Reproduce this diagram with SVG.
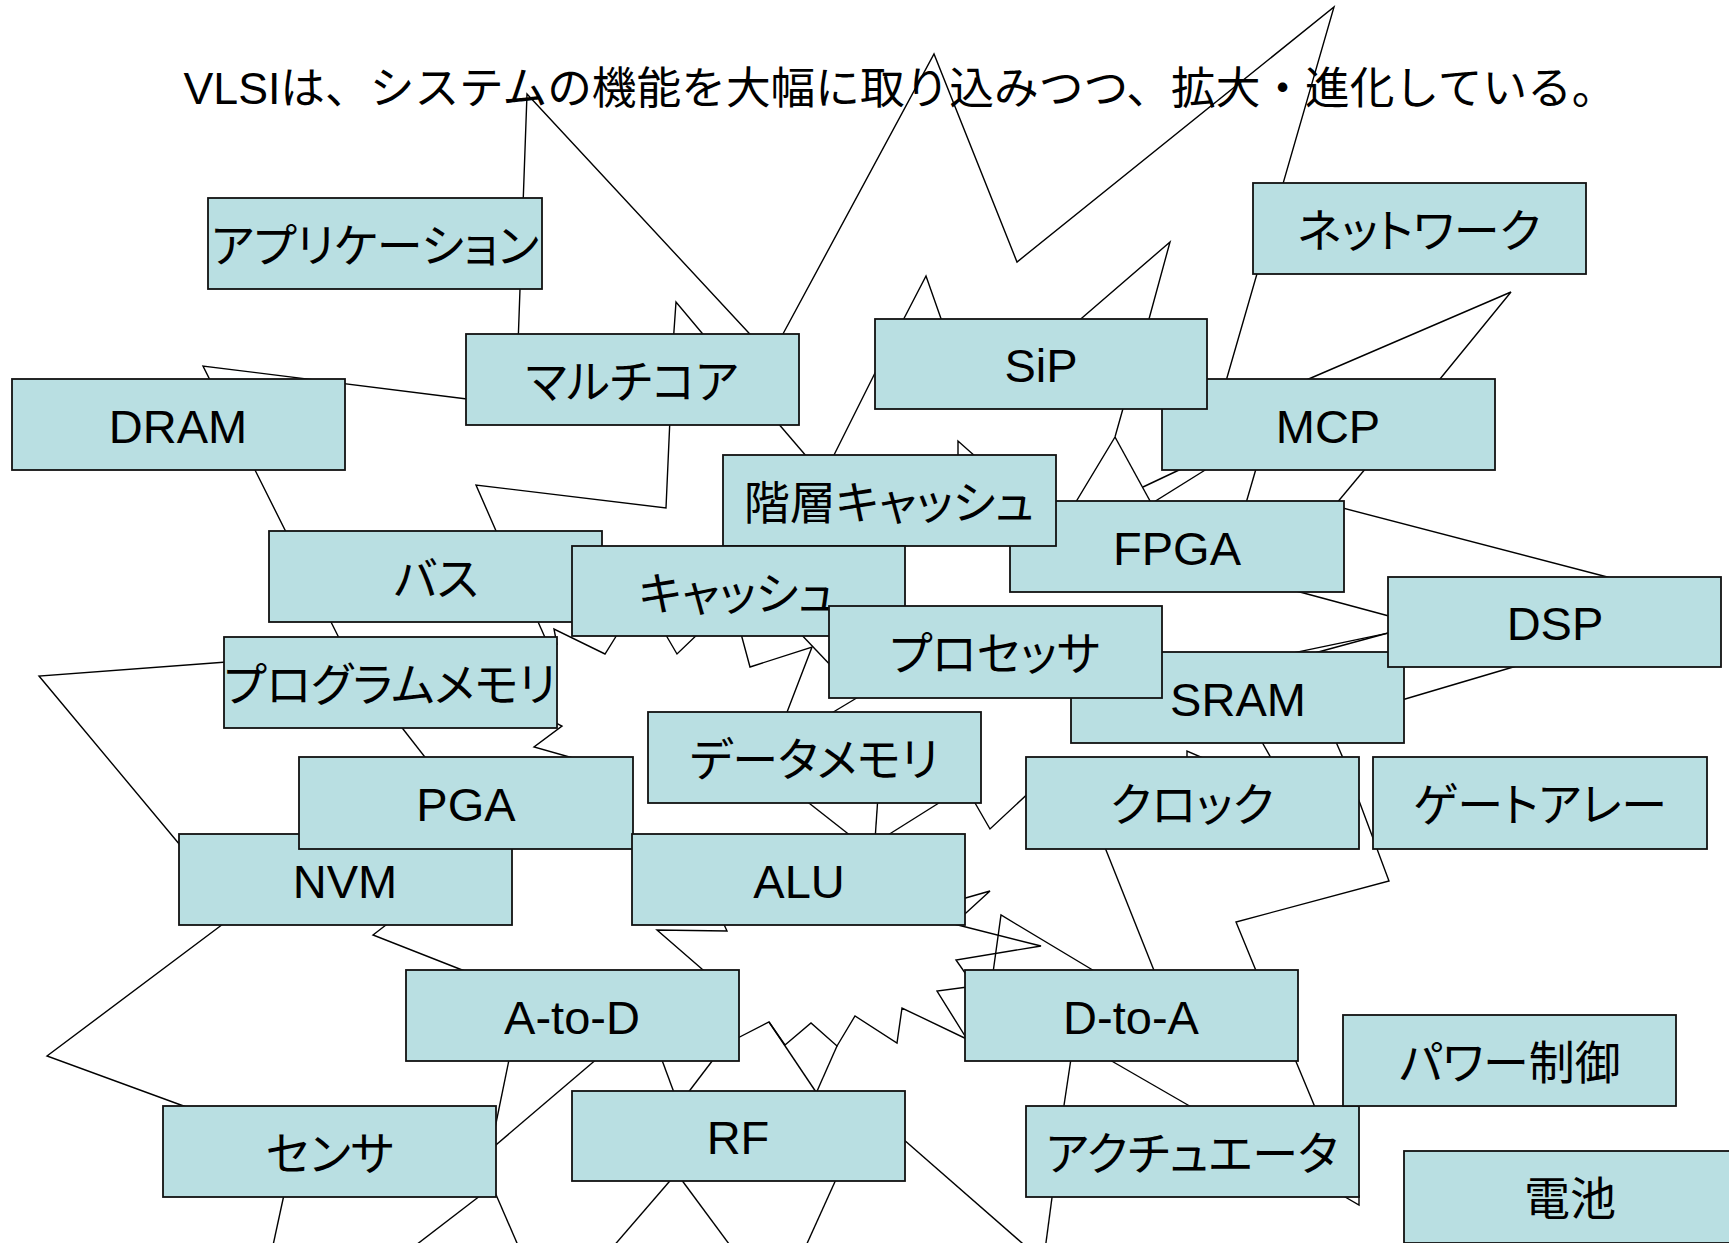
<svg xmlns="http://www.w3.org/2000/svg" width="1729" height="1243" viewBox="0 0 1729 1243">
<style>
.bx{fill:#B9DFE2;stroke:#111;stroke-width:1.8}
.lb{font-family:"Liberation Sans","Noto Sans CJK JP",sans-serif;font-size:46px;text-anchor:middle;fill:#000;font-feature-settings:"palt"}
.lt{font-size:47px}
.ln{fill:none;stroke:#000;stroke-width:1.4;stroke-linejoin:miter}
.tt{font-family:"Liberation Sans","Noto Sans CJK JP",sans-serif;font-size:44.7px;text-anchor:middle;fill:#000}
</style>
<rect width="1729" height="1243" fill="#fff"/>
<text class="tt" x="900" y="104">VLSIは、システムの機能を大幅に取り込みつつ、拡大・進化している。</text>
<g id="connectors" class="ln">
<path class="ln" d="M475,400 L203,366 L345,650"/>
<path class="ln" d="M396,720 L435,770"/>
<path class="ln" d="M240,661 L39,676 L190,857"/>
<path class="ln" d="M235,915 L47,1056 L200,1112"/>
<path class="ln" d="M395,918 L373,935 L480,977"/>
<path class="ln" d="M285,1190 L272,1250"/>
<path class="ln" d="M485,1192 L416,1245"/>
<path class="ln" d="M511,1050 L494,1133"/>
<path class="ln" d="M605,1052 L490,1150"/>
<path class="ln" d="M494,1190 L520,1250"/>
<path class="ln" d="M659,1052 L676,1098"/>
<path class="ln" d="M719,1052 L684,1098"/>
<path class="ln" d="M728,1043 L769,1022 L785,1045 L811,1023 L837,1046 L855,1016 L897,1043 L902,1008 L975,1043"/>
<path class="ln" d="M769,1022 L820,1098"/>
<path class="ln" d="M837,1046 L814,1098"/>
<path class="ln" d="M675,1175 L612,1248"/>
<path class="ln" d="M678,1175 L732,1248"/>
<path class="ln" d="M838,1175 L805,1248"/>
<path class="ln" d="M895,1132 L1030,1250"/>
<path class="ln" d="M1053,1190 L1045,1250"/>
<path class="ln" d="M1359,1195 L1359,1205 L1340,1194"/>
<path class="ln" d="M1072,1052 L1063,1112"/>
<path class="ln" d="M1096,1052 L1200,1112"/>
<path class="ln" d="M1292,1052 L1317,1112"/>
<path class="ln" d="M1355,790 L1389,881 L1236,922 L1259,978"/>
<path class="ln" d="M1102,840 L1157,978"/>
<path class="ln" d="M955,901 L990,891 L955,923"/>
<path class="ln" d="M950,923 L1041,946 L956,960 L970,980"/>
<path class="ln" d="M992,980 L1001,915 L1101,975"/>
<path class="ln" d="M975,986 L937,991 L975,1052"/>
<path class="ln" d="M722,920 L727,931 L657,930 L710,976"/>
<path class="ln" d="M800,796 L856,840"/>
<path class="ln" d="M878,796 L875,840"/>
<path class="ln" d="M950,796 L880,840"/>
<path class="ln" d="M971,796 L990,829 L1035,787"/>
<path class="ln" d="M1187,765 L1187,751 L1210,761"/>
<path class="ln" d="M1258,735 L1275,765"/>
<path class="ln" d="M1333,735 L1346,765"/>
<path class="ln" d="M1395,702 L1520,665"/>
<path class="ln" d="M1335,506 L1615,579"/>
<path class="ln" d="M1285,588 L1400,619"/>
<path class="ln" d="M1285,654.6 L1400,630.6"/>
<path class="ln" d="M1310,654.3 L1400,629.8"/>
<path class="ln" d="M1331,510 L1371,462"/>
<path class="ln" d="M1244,510 L1258,462"/>
<path class="ln" d="M1141,510 L1218,462"/>
<path class="ln" d="M1143,487 L1196,462"/>
<path class="ln" d="M1124,405 L1115,437 L1071,510"/>
<path class="ln" d="M1115,437 L1155,510"/>
<path class="ln" d="M958,465 L958,441 L985,465"/>
<path class="ln" d="M771,415 L813,464"/>
<path class="ln" d="M879,365 L829,465"/>
<path class="ln" d="M670,418 L666,508 L476,485 L500,540"/>
<path class="ln" d="M518,345 L527,94 L760,345"/>
<path class="ln" d="M673,345 L676,302 L712,345"/>
<path class="ln" d="M777,345 L934,54 L1017,262 L1334,7 L1222,395"/>
<path class="ln" d="M1290,387 L1511,292 L1431,390"/>
<path class="ln" d="M898,330 L926,276 L945,330"/>
<path class="ln" d="M1068,330 L1170,242 L1146,330"/>
<path class="ln" d="M535,615 L547,642"/>
<path class="ln" d="M557,645 L554,629 L605,654 L620,630"/>
<path class="ln" d="M663,630 L677,654 L702,630"/>
<path class="ln" d="M740,630 L750,667 L812,647 L784,720"/>
<path class="ln" d="M797,630 L835,670"/>
<path class="ln" d="M830,714 L870,690"/>
<path class="ln" d="M550,720 L562,726 L534,747 L580,760"/>
</g>
<g id="n-app"><rect class="bx" x="208" y="198" width="334" height="91"/><text class="lb" x="375" y="262">アプリケーション</text></g>
<g id="n-dram"><rect class="bx" x="12" y="379" width="333" height="91"/><text class="lb lt" x="178" y="443">DRAM</text></g>
<g id="n-multicore"><rect class="bx" x="466" y="334" width="333" height="91"/><text class="lb" x="632" y="398">マルチコア</text></g>
<g id="n-network"><rect class="bx" x="1253" y="183" width="333" height="91"/><text class="lb" x="1419" y="247">ネットワーク</text></g>
<g id="n-mcp"><rect class="bx" x="1162" y="379" width="333" height="91"/><text class="lb lt" x="1328" y="443">MCP</text></g>
<g id="n-sip"><rect class="bx" x="875" y="319" width="332" height="90"/><text class="lb lt" x="1041" y="382">SiP</text></g>
<g id="n-fpga"><rect class="bx" x="1010" y="501" width="334" height="91"/><text class="lb lt" x="1177" y="565">FPGA</text></g>
<g id="n-hcache"><rect class="bx" x="723" y="455" width="333" height="91"/><text class="lb" x="889" y="519">階層キャッシュ</text></g>
<g id="n-bus"><rect class="bx" x="269" y="531" width="333" height="91"/><text class="lb" x="436" y="595">バス</text></g>
<g id="n-cache"><rect class="bx" x="572" y="546" width="333" height="90"/><text class="lb" x="738" y="610">キャッシュ</text></g>
<g id="n-sram"><rect class="bx" x="1071" y="652" width="333" height="91"/><text class="lb lt" x="1238" y="716">SRAM</text></g>
<g id="n-dsp"><rect class="bx" x="1388" y="577" width="333" height="90"/><text class="lb lt" x="1555" y="640">DSP</text></g>
<g id="n-proc"><rect class="bx" x="829" y="606" width="333" height="92"/><text class="lb" x="995" y="670">プロセッサ</text></g>
<g id="n-pmem"><rect class="bx" x="224" y="637" width="333" height="91"/><text class="lb" x="390" y="701">プログラムメモリ</text></g>
<g id="n-dmem"><rect class="bx" x="648" y="712" width="333" height="91"/><text class="lb" x="814" y="776">データメモリ</text></g>
<g id="n-clock"><rect class="bx" x="1026" y="757" width="333" height="92"/><text class="lb" x="1192" y="821">クロック</text></g>
<g id="n-gate"><rect class="bx" x="1373" y="757" width="334" height="92"/><text class="lb" x="1540" y="821">ゲートアレー</text></g>
<g id="n-nvm"><rect class="bx" x="179" y="834" width="333" height="91"/><text class="lb lt" x="345" y="898">NVM</text></g>
<g id="n-pga"><rect class="bx" x="299" y="757" width="334" height="92"/><text class="lb lt" x="466" y="821">PGA</text></g>
<g id="n-alu"><rect class="bx" x="632" y="834" width="333" height="91"/><text class="lb lt" x="799" y="898">ALU</text></g>
<g id="n-atod"><rect class="bx" x="406" y="970" width="333" height="91"/><text class="lb lt" x="572" y="1034">A-to-D</text></g>
<g id="n-dtoa"><rect class="bx" x="965" y="970" width="333" height="91"/><text class="lb lt" x="1131" y="1034">D-to-A</text></g>
<g id="n-sensor"><rect class="bx" x="163" y="1106" width="333" height="91"/><text class="lb" x="330" y="1170">センサ</text></g>
<g id="n-rf"><rect class="bx" x="572" y="1091" width="333" height="90"/><text class="lb lt" x="738" y="1154">RF</text></g>
<g id="n-act"><rect class="bx" x="1026" y="1106" width="333" height="91"/><text class="lb" x="1192" y="1170">アクチュエータ</text></g>
<g id="n-power"><rect class="bx" x="1343" y="1015" width="333" height="91"/><text class="lb" x="1510" y="1079">パワー制御</text></g>
<g id="n-battery"><rect class="bx" x="1404" y="1151" width="333" height="92"/><text class="lb" x="1570" y="1215">電池</text></g>
</svg>
